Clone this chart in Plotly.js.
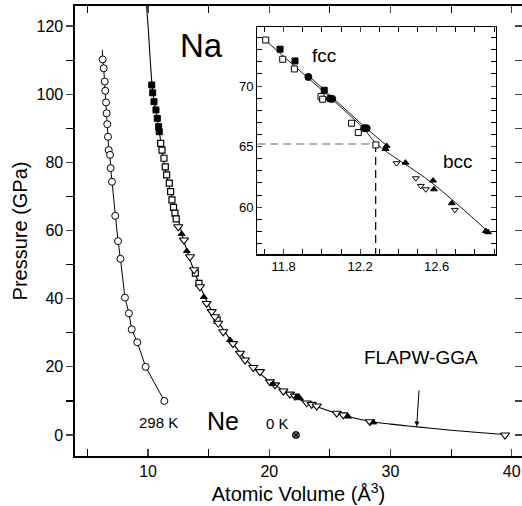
<!DOCTYPE html>
<html><head><meta charset="utf-8">
<script src="https://cdn.plot.ly/plotly-3.0.1.min.js"></script>
<style>html,body{margin:0;padding:0;background:#fff}#chart{width:522px;height:506px}</style>
</head><body><div id="chart"></div>
<script>
// ---- Main panel data ----
// Ne at 298 K (open circles)
var neX = [6.25,6.34,6.42,6.47,6.53,6.58,6.63,6.69,6.75,6.86,6.91,7.02,7.29,7.52,7.72,8.09,8.42,8.65,9.11,9.80,11.34];
var neY = [110.2,107.6,103.7,101.0,97.6,94.4,91.2,87.5,83.6,82.2,78.3,74.3,64.3,56.9,51.7,40.3,35.7,31.0,27.2,20.0,10.0];
// Ne fit line (extends slightly above the top point)
var neLineX = [6.22,6.25,6.34,6.42,6.47,6.53,6.58,6.63,6.69,6.75,6.86,6.91,7.02,7.29,7.52,7.72,8.09,8.42,8.65,9.11,9.80,11.34];
var neLineY = [113.0,110.2,107.6,103.7,101.0,97.6,94.4,91.2,87.5,83.6,82.2,78.3,74.3,64.3,56.9,51.7,40.3,35.7,31.0,27.2,20.0,10.0];
// Ne at 0 K
var ne0X = [22.2];
var ne0Y = [0];
// Na FLAPW-GGA curve
var gX = [9.85,10.0,10.38,10.65,10.9,11.15,11.5,11.85,12.28,12.6,12.87,13.2,13.6,14.3,15.4,16.8,17.9,19.0,20.0,21.5,23.0,25.0,27.0,28.5,30.0,32.2,35.0,37.0,39.1];
var gY = [127.0,120.0,100.8,95.0,89.6,83.6,76.5,71.5,65.2,61.8,57.9,54.2,50.0,43.6,35.5,27.9,22.8,18.8,15.8,12.4,9.6,7.0,5.0,3.9,3.2,2.4,1.4,0.8,0.2];
// Na filled squares (fcc, high pressure)
var sqFX = [10.30,10.38,10.49,10.65,10.76,10.87,10.92];
var sqFY = [102.7,100.4,97.8,95.4,92.9,90.5,89.0];
// Na open squares
var sqOX = [11.04,11.15,11.31,11.42,11.53,11.75,11.86,11.97,12.10,12.22,12.32,13.9,14.2,15.7];
var sqOY = [85.6,83.6,81.2,78.7,76.3,73.9,71.4,69.0,66.8,65.1,63.4,47.5,44.5,33.7];
// Na open down-triangles (bcc)
var triOX = [12.49,12.96,13.46,13.8,14.28,14.83,15.25,15.52,15.79,16.2,17.0,17.58,18.0,18.68,19.23,20.06,20.47,21.16,21.7,22.12,23.09,23.5,23.91,25.56,26.1,28.3,39.45];
var triOY = [61.1,57.2,52.3,48.5,43.5,38.6,36.2,34.7,32.8,30.3,26.8,24.0,22.0,19.8,18.6,15.6,14.7,12.9,12.0,11.4,9.4,9.0,8.5,6.4,5.9,3.9,0.0];
// Na filled up-triangles
var triFX = [12.77,13.2,14.6,16.76,20.3,22.26,22.53,26.52,28.58];
var triFY = [59.0,54.0,40.5,27.9,15.0,11.2,10.8,5.4,3.7];

// ---- Inset data ----
var inSqOX = [11.706,11.795,11.856,11.995,12.004,12.155,12.19,12.282];
var inSqOY = [73.80,72.21,71.41,69.13,68.91,66.93,66.16,65.14];
var inSqFX = [11.781,11.859,12.012];
var inSqFY = [73.04,72.07,69.65];
var inCirX = [11.929,12.042,12.054,12.221,12.234];
var inCirY = [70.75,68.96,68.94,66.52,66.52];
var inTriFX = [12.338,12.333,12.437,12.581,12.586,12.679,12.857,12.869];
var inTriFY = [65.06,64.81,63.68,62.20,61.48,60.33,58.04,57.94];
var inTriOX = [12.39,12.491,12.517,12.543,12.695];
var inTriOY = [63.63,62.39,61.76,61.48,59.78];
var inLineAX = [11.69,11.703,12.216,12.286,12.573,12.88];
var inLineAY = [74.0,73.80,66.52,65.22,62.03,57.82];
var inLineBX = [11.93,12.05,12.22,12.345];
var inLineBY = [70.85,69.12,66.68,65.0];
// transition reference (dashed)
var refHX = [11.662,12.281];
var refHY = [65.22,65.22];
var refVX = [12.281,12.281];
var refVY = [65.22,56.1];

var FONT = 'Liberation Sans, Arial, Helvetica, sans-serif';
var traces = [
  {x:neLineX,y:neLineY,mode:'lines',line:{color:'#000',width:1},xaxis:'x',yaxis:'y',hoverinfo:'skip'},
  {x:neX,y:neY,mode:'markers',marker:{symbol:'circle',size:7,color:'#fff',line:{color:'#000',width:1}},xaxis:'x',yaxis:'y'},
  {x:gX,y:gY,mode:'lines',line:{color:'#000',width:1.1,shape:'spline'},xaxis:'x',yaxis:'y'},
  {x:sqOX,y:sqOY,mode:'markers',marker:{symbol:'square',size:6,color:'#fff',line:{color:'#000',width:1.2}},xaxis:'x',yaxis:'y'},
  {x:sqFX,y:sqFY,mode:'markers',marker:{symbol:'square',size:6,color:'#000',line:{color:'#000',width:1}},xaxis:'x',yaxis:'y'},
  {x:triOX,y:triOY,mode:'markers',marker:{symbol:'triangle-down',size:8,color:'#fff',line:{color:'#000',width:1.1}},xaxis:'x',yaxis:'y'},
  {x:triFX,y:triFY,mode:'markers',marker:{symbol:'triangle-up',size:6,color:'#000',line:{color:'#000',width:1}},xaxis:'x',yaxis:'y'},
  {x:ne0X,y:ne0Y,mode:'markers',marker:{symbol:'circle-x',size:7,color:'#666',line:{color:'#000',width:1}},xaxis:'x',yaxis:'y'},
  {x:[null],y:[null],mode:'markers',xaxis:'x',yaxis:'y3',hoverinfo:'skip'},
  // inset
  {x:refHX,y:refHY,mode:'lines',line:{color:'#999',width:1.5,dash:'8px,5px'},xaxis:'x2',yaxis:'y2'},
  {x:refVX,y:refVY,mode:'lines',line:{color:'#000',width:1.2,dash:'8px,5px'},xaxis:'x2',yaxis:'y2'},
  {x:inLineAX,y:inLineAY,mode:'lines',line:{color:'#000',width:0.9,shape:'spline'},xaxis:'x2',yaxis:'y2'},
  {x:inLineBX,y:inLineBY,mode:'lines',line:{color:'#000',width:0.9},xaxis:'x2',yaxis:'y2'},
  {x:inSqOX,y:inSqOY,mode:'markers',marker:{symbol:'square',size:6,color:'#fff',line:{color:'#000',width:1}},xaxis:'x2',yaxis:'y2'},
  {x:inSqFX,y:inSqFY,mode:'markers',marker:{symbol:'square',size:6,color:'#000',line:{color:'#000',width:1}},xaxis:'x2',yaxis:'y2'},
  {x:inCirX,y:inCirY,mode:'markers',marker:{symbol:'circle',size:7,color:'#000',line:{color:'#000',width:1}},xaxis:'x2',yaxis:'y2'},
  {x:inTriOX,y:inTriOY,mode:'markers',marker:{symbol:'triangle-down',size:6,color:'#fff',line:{color:'#000',width:1}},xaxis:'x2',yaxis:'y2'},
  {x:inTriFX,y:inTriFY,mode:'markers',marker:{symbol:'triangle-up',size:6,color:'#000',line:{color:'#000',width:1}},xaxis:'x2',yaxis:'y2'}
];

var layout = {
  width:522, height:506,
  margin:{l:75,r:0,t:6,b:50,pad:0},
  paper_bgcolor:'#fff', plot_bgcolor:'#fff',
  showlegend:false,
  font:{family:FONT,color:'#000',size:16},
  xaxis:{domain:[0,1],range:[3.97,40.85],tick0:0,dtick:10,ticks:'inside',ticklen:7,tickwidth:1.2,
    minor:{dtick:5,ticks:'inside',ticklen:7,tickwidth:1.2,tickcolor:'#000'},
    showline:true,linewidth:1.6,linecolor:'#000',mirror:'ticks',showgrid:false,zeroline:false,
    tickfont:{size:16},anchor:'y',
    title:{text:'Atomic Volume (Å<sup>3</sup>)',font:{size:20},standoff:4}},
  yaxis:{domain:[0,1],range:[-6.16,125.88],tick0:0,dtick:20,ticks:'outside',ticklen:7,tickwidth:1.2,
    minor:{dtick:10,ticks:'outside',ticklen:7,tickwidth:1.2,tickcolor:'#000'},
    showline:true,linewidth:1.6,linecolor:'#000',mirror:true,showgrid:false,zeroline:false,
    tickfont:{size:16},anchor:'x',
    title:{text:'Pressure (GPa)',font:{size:20},standoff:3}},
  yaxis3:{overlaying:'y',side:'right',anchor:'x',range:[-6.16,125.88],tick0:0,dtick:10,ticks:'inside',ticklen:7,tickwidth:1.2,
    showticklabels:false,showline:false,showgrid:false,zeroline:false},
  xaxis2:{domain:[0.4078,0.9418],anchor:'y2',range:[11.662,12.91],tick0:11.8,dtick:0.4,ticks:'inside',ticklen:5,tickwidth:1,
    minor:{dtick:0.1,ticks:'inside',ticklen:5,tickwidth:1,tickcolor:'#000'},
    showline:true,linewidth:1.2,linecolor:'#000',mirror:'ticks',showgrid:false,zeroline:false,
    tickfont:{size:13}},
  yaxis2:{domain:[0.4478,0.9533],anchor:'x2',range:[56.1,74.87],tick0:60,dtick:5,ticks:'inside',ticklen:5,tickwidth:1,
    minor:{dtick:1,ticks:'inside',ticklen:5,tickwidth:1,tickcolor:'#000'},
    showline:true,linewidth:1.2,linecolor:'#000',mirror:'ticks',showgrid:false,zeroline:false,
    tickfont:{size:13}},
  annotations:[
    {x:14.39,y:114.4,xref:'x',yref:'y',text:'Na',showarrow:false,font:{size:33},xanchor:'center',yanchor:'middle'},
    {x:16.18,y:4.1,xref:'x',yref:'y',text:'Ne',showarrow:false,font:{size:25},xanchor:'center',yanchor:'middle'},
    {x:10.82,y:3.8,xref:'x',yref:'y',text:'298 K',showarrow:false,font:{size:15},xanchor:'center',yanchor:'middle'},
    {x:20.69,y:3.5,xref:'x',yref:'y',text:'0 K',showarrow:false,font:{size:15},xanchor:'center',yanchor:'middle'},
    {x:32.48,y:22.6,xref:'x',yref:'y',text:'FLAPW-GGA',showarrow:false,font:{size:19},xanchor:'center',yanchor:'middle'},
    {x:32.16,y:2.5,xref:'x',yref:'y',text:' ',showarrow:true,ax:3,ay:-46,arrowhead:2,arrowsize:1,arrowwidth:1,arrowcolor:'#000',standoff:0},
    {x:12.013,y:72.48,xref:'x2',yref:'y2',text:'fcc',showarrow:false,font:{size:19},xanchor:'center',yanchor:'middle'},
    {x:12.714,y:63.74,xref:'x2',yref:'y2',text:'bcc',showarrow:false,font:{size:19},xanchor:'center',yanchor:'middle'}
  ]
};
Plotly.newPlot('chart', traces, layout, {staticPlot:true, displayModeBar:false});
</script></body></html>
